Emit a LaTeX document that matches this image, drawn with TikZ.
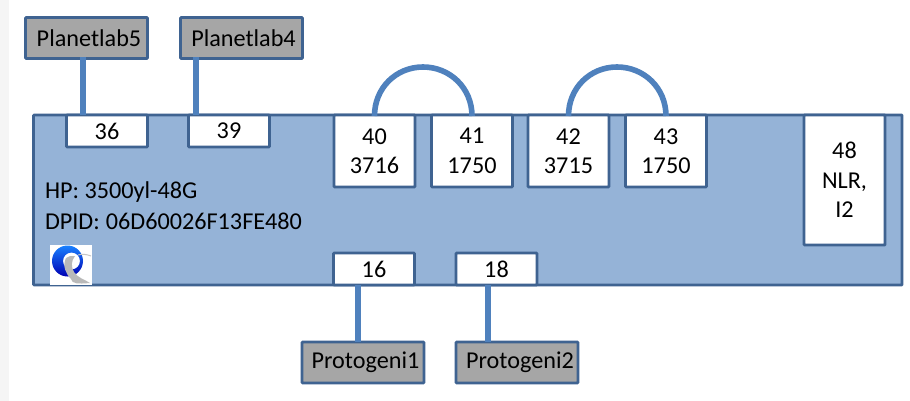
\documentclass[tikz,border=0pt]{standalone}
\usepackage{fontspec}
\setmainfont{Carlito}
\definecolor{edgeblue}{HTML}{3F6391}
\definecolor{linkblue}{HTML}{4F81BD}
\definecolor{panelblue}{HTML}{95B3D7}
\definecolor{hostgray}{HTML}{A6A6A6}
\tikzset{
  boxbase/.style={draw=edgeblue,line width=2.6pt,rounded corners=0.6pt,inner sep=0pt,outer sep=0pt,align=center,font=\fontsize{24.2}{29.5}\selectfont,anchor=north west},
  port/.style={boxbase,fill=white,minimum width=#1},
  port/.default=81pt,
  host/.style={boxbase,fill=hostgray,minimum width=122pt,minimum height=41pt},
  link/.style={draw=linkblue,line width=5.6pt},
  lbl/.style={inner sep=0pt,outer sep=0pt,anchor=west,font=\fontsize{24.2}{29}\selectfont}
}
\begin{document}
\begin{tikzpicture}[x=1pt,y=-1pt]
\useasboundingbox (0,0) rectangle (910,401);
\fill[white] (0,0) rectangle (910,401);
\fill[black!4] (0,0) rectangle (9,401);
\node[boxbase,fill=panelblue,minimum width=868.5pt,minimum height=170pt] (main) at (33.5,115) {};
% hosts
\node[host] (p5) at (25.5,17.5) {\hspace*{5pt}Planetlab5};
\node[host] (p4) at (180.5,17.5) {\hspace*{4pt}Planetlab4};
\node[host] (g1) at (302,342) {\hspace*{5pt}Protogeni1};
\node[host] (g2) at (456,342) {\hspace*{6pt}Protogeni2};
% ports
\node[port,minimum height=32pt] (n36) at (66.5,115) {36};
\node[port,minimum height=32pt] (n39) at (188.5,115) {39};
\node[port,minimum height=72pt] (n40) at (334,115) {40\\3716};
\node[port,minimum height=72pt] (n41) at (431.5,115) {41\\1750};
\node[port,minimum height=72pt] (n42) at (528,115) {42\\3715};
\node[port,minimum height=72pt] (n43) at (625.5,115) {43\\1750};
\node[port,minimum height=130pt] (n48) at (804,115) {48\\NLR,\\I2};
\node[port,minimum height=32pt] (n16) at (333.5,253) {16};
\node[port,minimum height=32pt] (n18) at (456,253) {18};
% labels
\node[lbl] (hp) at (45,192) {HP: 3500yl-48G};
\node[lbl] (dpid) at (45,221) {DPID:\hspace{6pt}06D60026F13FE480};
% connectors
\draw[link] ([xshift=57.5pt,yshift=1pt]p5.south west) -- ([xshift=57.5pt]p5.south west |- n36.north);
\draw[link] ([xshift=15.5pt,yshift=1pt]p4.south west) -- ([xshift=15.5pt]p4.south west |- n39.north);
\draw[link] ([xshift=-16pt]n16.south) -- ([xshift=-16pt]n16.south |- g1.north);
\draw[link] ([xshift=-8.5pt]n18.south) -- ([xshift=-8.5pt]n18.south |- g2.north);
\draw[link] ([yshift=-1pt]n40.north) .. controls +(0,-28) and +(-27,0) .. (423,67) .. controls +(27,0) and +(0,-28) .. ([yshift=-1pt]n41.north);
\draw[link] ([yshift=-1pt]n42.north) .. controls +(0,-28) and +(-27,0) .. (617,67) .. controls +(27,0) and +(0,-28) .. ([yshift=-1pt]n43.north);
% logo
\fill[white] (50,245) rectangle (92,285);
\shade[top color=blue!55!cyan!90!white,bottom color=blue!70!black,even odd rule] (67.5,261) circle (15.5) (71.5,261) circle (8.5);
\fill[gray!55] (66,258) .. controls (62,266) and (66,274) .. (71,279) .. controls (72,284) and (78,284) .. (90,283) .. controls (84,279) and (78,278) .. (74,272) .. controls (71,267) and (71,261) .. (75,256) .. controls (71,256) and (68,256) .. (66,258) -- cycle;
\draw[gray!45,line width=1pt] (78,255) .. controls (82,254) and (86,254) .. (91,256);
\end{tikzpicture}
\end{document}
